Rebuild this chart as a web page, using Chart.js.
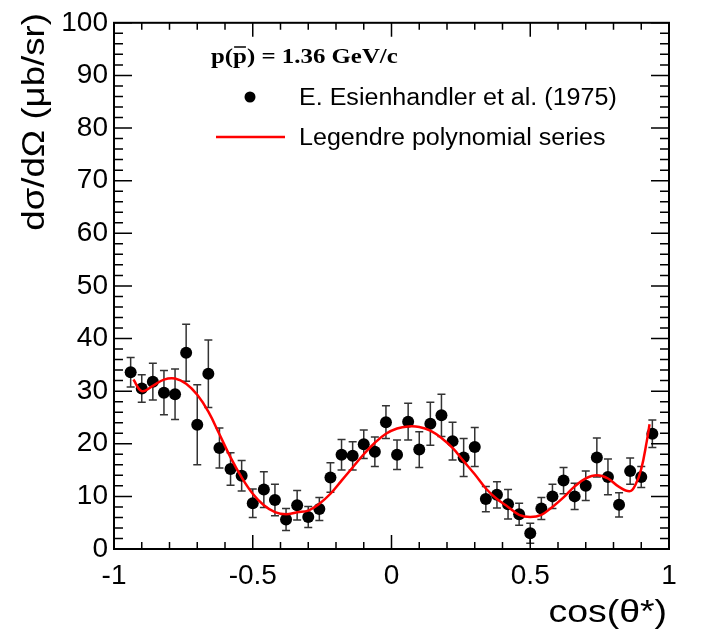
<!DOCTYPE html>
<html>
<head>
<meta charset="utf-8">
<script src="https://cdn.jsdelivr.net/npm/chart.js@4.4.1/dist/chart.umd.min.js"></script>
<style>
  body { margin: 0; background: #fff; }
  #wrap { width: 701px; height: 637px; }
</style>
</head>
<body>
<div id="wrap"><canvas id="c" width="701" height="637"></canvas></div>
<script>
const cosTheta = [-0.94, -0.90, -0.86, -0.82, -0.78, -0.74, -0.70, -0.66, -0.62, -0.58, -0.54, -0.50,
  -0.46, -0.42, -0.38, -0.34, -0.30, -0.26, -0.22, -0.18, -0.14, -0.10, -0.06, -0.02,
  0.02, 0.06, 0.10, 0.14, 0.18, 0.22, 0.26, 0.30, 0.34, 0.38, 0.42, 0.46, 0.50, 0.54,
  0.58, 0.62, 0.66, 0.70, 0.74, 0.78, 0.82, 0.86, 0.90, 0.94];
const dsig = [33.6, 30.5, 31.8, 29.7, 29.4, 37.3, 23.6, 33.3, 19.2, 15.2, 13.9, 8.7,
  11.3, 9.3, 5.6, 8.3, 6.1, 7.6, 13.6, 17.9, 17.7, 19.9, 18.5, 24.1,
  17.9, 24.2, 18.9, 23.8, 25.4, 20.5, 17.4, 19.4, 9.5, 10.3, 8.5, 6.6, 3.0, 7.7,
  10.0, 13.0, 10.0, 12.0, 17.4, 13.7, 8.4, 14.8, 13.7, 21.9];
const dsigErr = [2.8, 2.6, 3.5, 4.2, 4.8, 5.4, 7.6, 6.4, 3.8, 3.1, 2.9, 2.7,
  3.4, 3.0, 2.1, 2.8, 2.0, 2.2, 2.8, 2.9, 2.7, 2.7, 2.8, 3.1,
  2.8, 3.5, 3.4, 4.1, 4.0, 3.6, 3.6, 3.7, 2.4, 2.5, 2.8, 2.1, 1.9, 2.1,
  2.3, 2.5, 2.5, 2.8, 3.7, 3.4, 2.3, 2.5, 2.0, 2.6];

// Legendre fit curve
const fitX = [-0.93, -0.90, -0.86, -0.82, -0.78, -0.74, -0.70, -0.66, -0.62, -0.58, -0.54, -0.50,
  -0.46, -0.42, -0.38, -0.34, -0.30, -0.26, -0.22, -0.18, -0.14, -0.10, -0.06, -0.02,
  0.02, 0.06, 0.10, 0.14, 0.18, 0.22, 0.26, 0.30, 0.34, 0.38, 0.42, 0.46, 0.50, 0.54,
  0.58, 0.62, 0.66, 0.70, 0.74, 0.78, 0.82, 0.86, 0.88, 0.90, 0.92, 0.93];
const fitY = [32.2, 30.0, 31.0, 32.2, 32.4, 31.4, 29.3, 26.1, 21.8, 17.4, 13.6, 10.5,
  8.3, 7.0, 6.6, 7.0, 7.3, 8.6, 10.5, 13.0, 15.5, 18.0, 20.2, 21.9,
  22.9, 23.3, 23.2, 22.5, 21.1, 19.2, 16.7, 14.2, 11.5, 9.5, 8.0, 6.5, 6.1, 6.5,
  8.0, 9.8, 11.9, 13.4, 14.0, 13.4, 11.8, 11.0, 12.3, 15.2, 20.5, 23.7];

// axis labels
const xMajor = [-1, -0.5, 0, 0.5, 1];
const yMajor = [0, 10, 20, 30, 40, 50, 60, 70, 80, 90, 100];

const isMajor = (v, list) => list.some(m => Math.abs(m - v) < 1e-6);

// text a bit wider than the font gives, like the ROOT output
function wideText(ctx, text, x, y, sx, align) {
  ctx.save();
  ctx.translate(x, y);
  ctx.scale(sx, 1);
  ctx.textAlign = align;
  ctx.fillText(text, 0, 0);
  ctx.restore();
}

// error bars, drawn under the markers
const errorBars = {
  id: 'errorBars',
  beforeDatasetsDraw(chart) {
    const { ctx, scales: { x, y } } = chart;
    ctx.save();
    ctx.strokeStyle = '#333';
    ctx.lineWidth = 1.5;
    cosTheta.forEach((c, i) => {
      const px = x.getPixelForValue(c);
      const lo = y.getPixelForValue(dsig[i] - dsigErr[i]);
      const hi = y.getPixelForValue(dsig[i] + dsigErr[i]);
      ctx.beginPath();
      ctx.moveTo(px, lo); ctx.lineTo(px, hi);
      ctx.moveTo(px - 4, lo); ctx.lineTo(px + 4, lo);
      ctx.moveTo(px - 4, hi); ctx.lineTo(px + 4, hi);
      ctx.stroke();
    });
    ctx.restore();
  }
};

// ROOT style frame, inner ticks, titles and legend
const rootFrame = {
  id: 'rootFrame',
  afterDraw(chart) {
    const { ctx, chartArea: a, scales: { x, y } } = chart;
    ctx.save();
    ctx.strokeStyle = '#000';
    ctx.lineWidth = 1.5;
    ctx.beginPath();
    x.ticks.forEach(t => {
      const px = x.getPixelForValue(t.value);
      const len = isMajor(t.value, xMajor) ? 14 : 7;
      ctx.moveTo(px, a.bottom); ctx.lineTo(px, a.bottom - len);
      ctx.moveTo(px, a.top); ctx.lineTo(px, a.top + len);
    });
    y.ticks.forEach(t => {
      const py = y.getPixelForValue(t.value);
      const len = isMajor(t.value, yMajor) ? 18 : 9;
      ctx.moveTo(a.left, py); ctx.lineTo(a.left + len, py);
      ctx.moveTo(a.right, py); ctx.lineTo(a.right - len, py);
    });
    ctx.stroke();
    ctx.lineWidth = 2;
    ctx.strokeRect(a.left, a.top, a.right - a.left, a.bottom - a.top);

    // axis titles
    ctx.fillStyle = '#000';
    ctx.font = '32px "Liberation Sans", Arial, sans-serif';
    ctx.textBaseline = 'alphabetic';
    wideText(ctx, 'cos(\u03B8*)', 667, 622, 1.17, 'right');
    ctx.save();
    ctx.translate(44, 13);
    ctx.rotate(-Math.PI / 2);
    wideText(ctx, 'd\u03C3/d\u03A9 (\u03BCb/sr)', 0, 0, 1.145, 'right');
    ctx.restore();

    // header text p(pbar) = 1.36 GeV/c
    ctx.font = 'bold 22px "Liberation Serif", "Times New Roman", serif';
    const tx = 211, ty = 63, sx = 1.13;
    wideText(ctx, 'p(p) = 1.36 GeV/c', tx, ty, sx, 'left');
    const pre = ctx.measureText('p(').width * sx;
    const pw = ctx.measureText('p').width * sx;
    ctx.lineWidth = 1.5;
    ctx.beginPath();
    ctx.moveTo(tx + pre + 1, ty - 16);
    ctx.lineTo(tx + pre + pw - 1, ty - 16);
    ctx.stroke();

    // legend
    ctx.font = '23px "Liberation Sans", Arial, sans-serif';
    ctx.beginPath();
    ctx.arc(250, 97, 5.5, 0, Math.PI * 2);
    ctx.fill();
    wideText(ctx, 'E. Esienhandler et al. (1975)', 299, 105, 1.09, 'left');
    ctx.strokeStyle = '#ff0000';
    ctx.lineWidth = 2.5;
    ctx.beginPath();
    ctx.moveTo(216, 137); ctx.lineTo(285, 137);
    ctx.stroke();
    wideText(ctx, 'Legendre polynomial series', 299, 145, 1.09, 'left');
    ctx.restore();
  }
};

const ctx = document.getElementById('c').getContext('2d');
new Chart(ctx, {
  type: 'scatter',
  data: {
    datasets: [{
      label: 'Legendre polynomial series',
      data: fitX.map((v, i) => ({ x: v, y: fitY[i] })),
      showLine: true,
      borderColor: '#ff0000',
      borderWidth: 2.5,
      pointRadius: 0,
      tension: 0.4,
      order: 0
    }, {
      label: 'E. Esienhandler et al. (1975)',
      data: cosTheta.map((v, i) => ({ x: v, y: dsig[i] })),
      backgroundColor: '#000',
      borderColor: '#000',
      pointRadius: 6,
      pointBorderWidth: 0,
      order: 1
    }]
  },
  options: {
    responsive: false,
    animation: false,
    layout: { padding: { left: 0, right: 32, top: 17, bottom: 0 } },
    plugins: { legend: { display: false }, tooltip: { enabled: false } },
    scales: {
      x: {
        type: 'linear',
        min: -1, max: 1,
        grid: { display: false, drawTicks: false },
        border: { display: false },
        ticks: {
          stepSize: 0.1,
          autoSkip: false,
          maxRotation: 0,
          padding: 10,
          color: '#000',
          font: { family: '"Liberation Sans", Arial, sans-serif', size: 28 },
          callback: v => isMajor(v, xMajor) ? String(Math.round(v * 2) / 2) : ''
        },
        afterFit: s => { s.height = 88; }
      },
      y: {
        min: 0, max: 100,
        grid: { display: false, drawTicks: false },
        border: { display: false },
        ticks: {
          stepSize: 2,
          autoSkip: false,
          padding: 6,
          color: '#000',
          font: { family: '"Liberation Sans", Arial, sans-serif', size: 28 },
          callback: v => isMajor(v, yMajor) ? String(v) : ''
        },
        afterFit: s => { s.width = 114; }
      }
    }
  },
  plugins: [errorBars, rootFrame]
});
</script>
</body>
</html>
